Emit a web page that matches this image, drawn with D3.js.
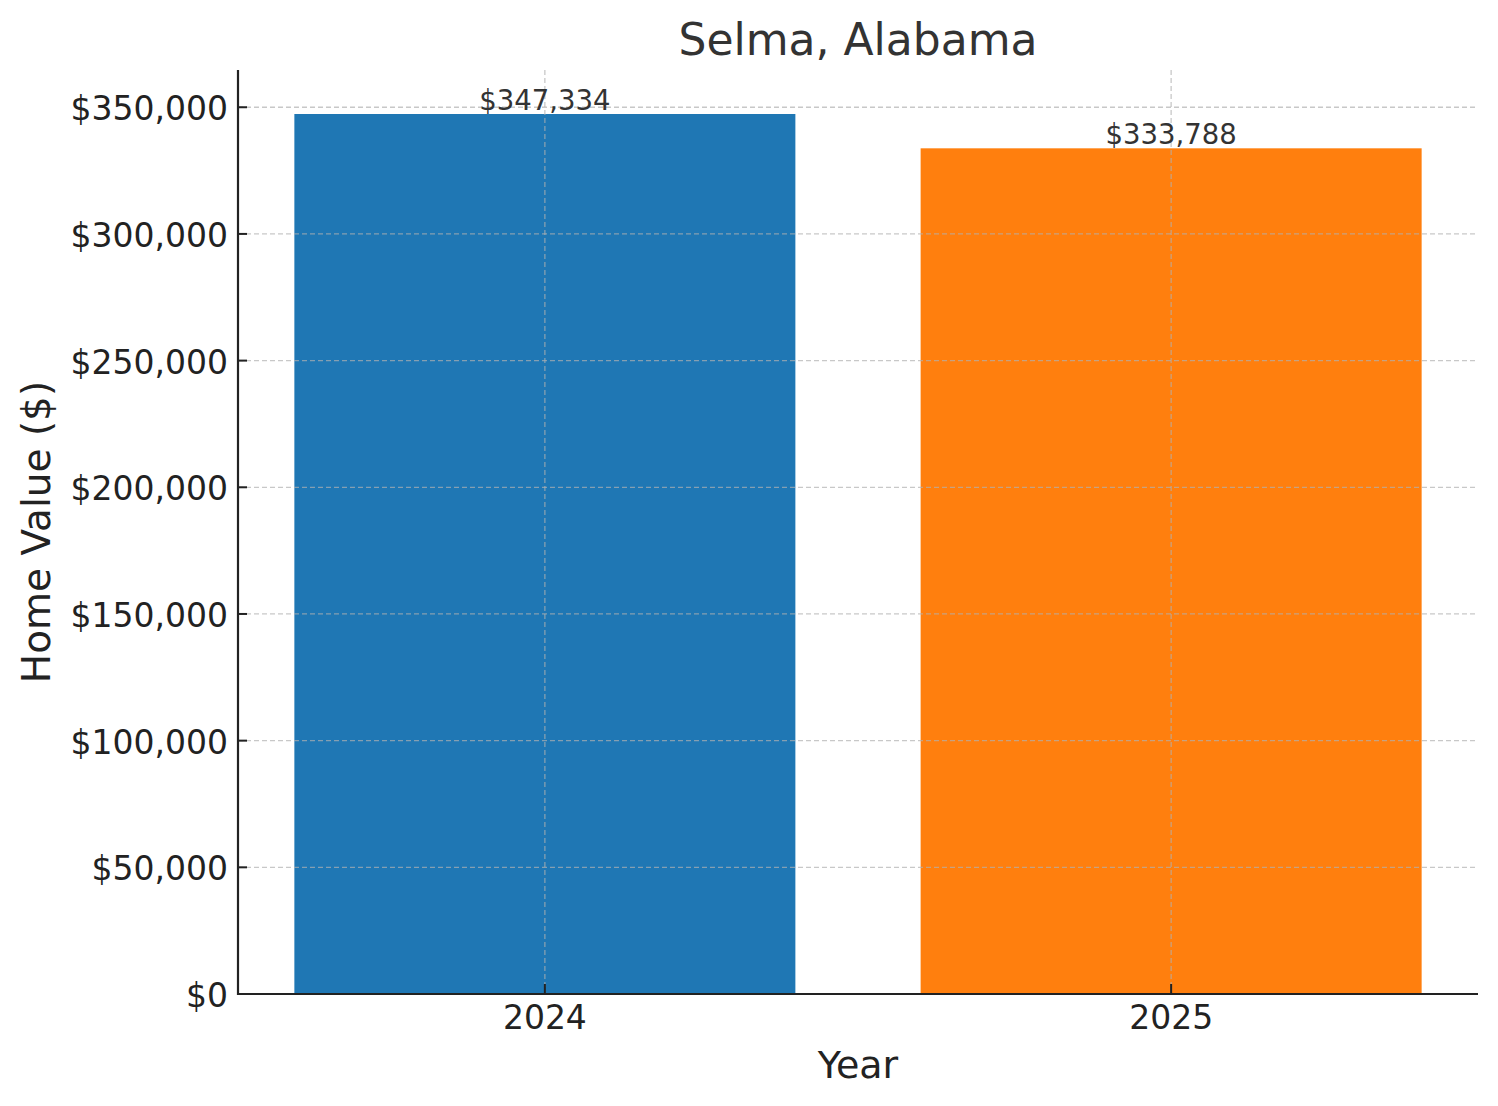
<!DOCTYPE html>
<html><head><meta charset="utf-8">
<script src="https://cdn.jsdelivr.net/npm/d3@7"></script>
<style>body{margin:0;background:#fff;} text{font-family:"DejaVu Sans",sans-serif;}</style>
</head><body>
<svg id="chart" width="1498" height="1106"></svg>
<script>
const categories = ["2024", "2025"];
const values = [347334, 333788];
const colors = ["#1f77b4", "#ff7f0e"];
const yTicks = [0, 50000, 100000, 150000, 200000, 250000, 300000, 350000];
const title = "Selma, Alabama";
const xLabel = "Year";
const yLabel = "Home Value ($)";

const svg = d3.select("#chart");
const L = 238, R = 1478, T = 70, B = 994;
const x = d3.scaleBand().domain(categories).range([L, R]).paddingInner(0.2).paddingOuter(0.09);
const y = d3.scaleLinear().domain([0, 364700]).range([B, T]);
const fmt = v => "$" + d3.format(",")(v);
const cx = c => x(c) + x.bandwidth()/2;

// bars
svg.selectAll("rect.bar").data(values).enter().append("rect")
  .attr("x", (d,i) => x(categories[i])).attr("width", x.bandwidth())
  .attr("y", d => y(d)).attr("height", d => B - y(d))
  .attr("fill", (d,i) => colors[i]);

// grid
const g = svg.append("g");
g.selectAll("line.h").data(yTicks).enter().append("line")
  .attr("x1", L).attr("x2", R).attr("y1", d => y(d)).attr("y2", d => y(d))
  .attr("stroke", "#b0b0b0").attr("stroke-opacity", 0.7).attr("stroke-width", 1.3).attr("stroke-dasharray", "5,3");
g.selectAll("line.v").data(categories).enter().append("line")
  .attr("y1", T).attr("y2", B).attr("x1", cx).attr("x2", cx)
  .attr("stroke", "#b0b0b0").attr("stroke-opacity", 0.7).attr("stroke-width", 1.3).attr("stroke-dasharray", "5,3");

// axes (labels from d3 axes, ticks drawn inward)
const yAxis = d3.axisLeft(y).tickValues(yTicks).tickFormat(fmt).tickSize(0).tickPadding(10);
const ya = svg.append("g").attr("transform", `translate(${L},0)`).call(yAxis);
const xAxis = d3.axisBottom(x).tickSize(0).tickPadding(12);
const xa = svg.append("g").attr("transform", `translate(0,${B})`).call(xAxis);
[ya, xa].forEach(a => {
  a.select(".domain").remove();
  a.selectAll(".tick text").attr("fill", "#222").style("font-size", "33px").style("font-family", "DejaVu Sans");
});
ya.selectAll(".tick text").attr("dy", "0.38em");
xa.selectAll(".tick text").attr("dy", "0.71em");

svg.selectAll("line.yt").data(yTicks).enter().append("line")
  .attr("x1", L).attr("x2", L + 9).attr("y1", d => y(d)).attr("y2", d => y(d))
  .attr("stroke", "#222").attr("stroke-width", 2);
svg.selectAll("line.xt").data(categories).enter().append("line")
  .attr("x1", cx).attr("x2", cx).attr("y1", B).attr("y2", B - 10)
  .attr("stroke", "#222").attr("stroke-width", 2);
svg.append("path").attr("d", `M${L},${T}V${B}H${R}`).attr("fill", "none")
  .attr("stroke", "#222").attr("stroke-width", 2.2);

// value labels
svg.selectAll("text.val").data(values).enter().append("text")
  .attr("x", (d,i) => cx(categories[i])).attr("y", d => y(d) - 4)
  .attr("text-anchor", "middle").attr("fill", "#333").style("font-size", "27.5px")
  .text(d => fmt(d));

// titles
svg.append("text").attr("x", (L+R)/2).attr("y", 55).attr("text-anchor", "middle")
  .attr("fill", "#333").style("font-size", "44px").text(title);
svg.append("text").attr("x", (L+R)/2).attr("y", 1078).attr("text-anchor", "middle")
  .attr("fill", "#222").style("font-size", "38px").text(xLabel);
svg.append("text").attr("transform", `translate(50,${(T+B)/2}) rotate(-90)`).attr("text-anchor", "middle")
  .attr("fill", "#222").style("font-size", "39px").text(yLabel);
</script>
</body></html>
